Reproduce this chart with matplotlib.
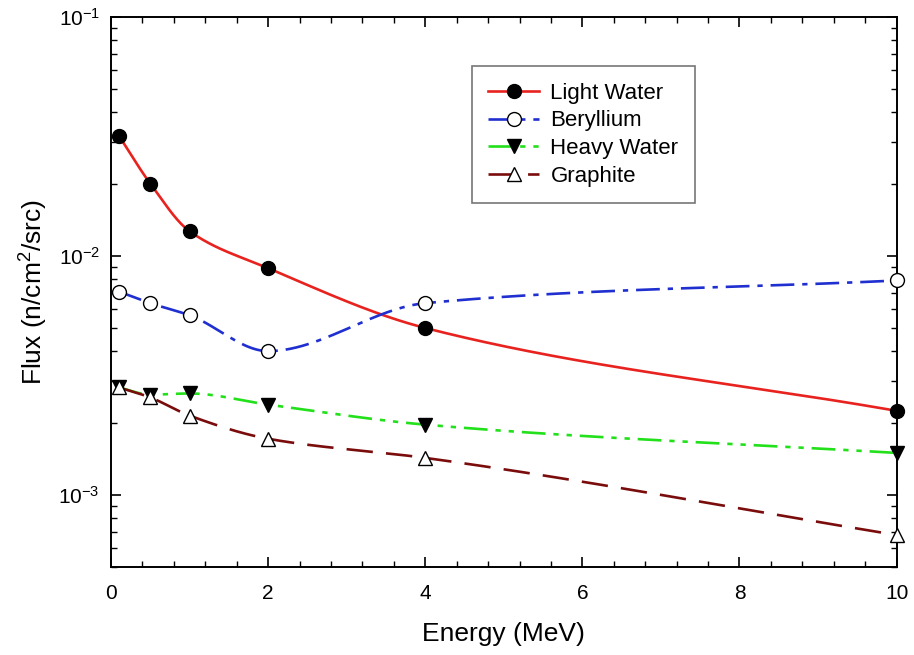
import numpy as np
import matplotlib
matplotlib.use("Agg")
import matplotlib.pyplot as plt
from matplotlib.ticker import LogLocator, MultipleLocator, LogFormatterMathtext, NullFormatter

plt.rcParams['font.family'] = ['Liberation Sans', 'DejaVu Sans']
plt.rcParams['mathtext.fontset'] = 'custom'
plt.rcParams['mathtext.rm'] = 'Liberation Sans'

# energies (MeV)
energy = [0.1, 0.5, 1.0, 2.0, 4.0, 10.0]

# flux (n/cm2/src)
light_water = [0.0319, 0.0201, 0.0127, 0.0089, 0.0050, 0.00225]
beryllium = [0.0071, 0.00635, 0.00565, 0.0040, 0.00635, 0.0079]
heavy_water = [0.00282, 0.00263, 0.00266, 0.00239, 0.00197, 0.0015]
graphite = [0.00282, 0.00256, 0.00215, 0.00172, 0.00143, 0.00068]


def smooth(x, y, n=400):
    # monotone cubic hermite (pchip) through the points, in log space
    x = np.asarray(x, float)
    ly = np.log10(np.asarray(y, float))
    h = np.diff(x)
    d = np.diff(ly) / h
    m = np.zeros_like(ly)
    for i in range(1, len(x) - 1):
        if d[i - 1] * d[i] > 0:
            w1 = 2 * h[i] + h[i - 1]
            w2 = h[i] + 2 * h[i - 1]
            m[i] = (w1 + w2) / (w1 / d[i - 1] + w2 / d[i])
    m[0] = d[0]
    m[-1] = d[-1]
    xs = np.linspace(x[0], x[-1], n)
    idx = np.clip(np.searchsorted(x, xs) - 1, 0, len(x) - 2)
    t = (xs - x[idx]) / h[idx]
    h00 = 2 * t**3 - 3 * t**2 + 1
    h10 = t**3 - 2 * t**2 + t
    h01 = -2 * t**3 + 3 * t**2
    h11 = t**3 - t**2
    ys = h00 * ly[idx] + h10 * h[idx] * m[idx] + h01 * ly[idx + 1] + h11 * h[idx] * m[idx + 1]
    return xs, 10**ys


series = [
    ("Light Water", light_water, "#e8231f", "-", "o", "black"),
    ("Beryllium", beryllium, "#1f2fd0", (0, (9, 3, 2, 3)), "o", "white"),
    ("Heavy Water", heavy_water, "#22e01a", (0, (9, 3, 2, 3, 2, 3)), "v", "black"),
    ("Graphite", graphite, "#7a0c0c", (0, (10, 5)), "^", "white"),
]

fig = plt.figure(figsize=(9.14, 6.55), dpi=100)
ax = fig.add_axes([0.1214, 0.1344, 0.8596, 0.8396])

for name, vals, col, ls, mk, fc in series:
    xs, ys = smooth(energy, vals)
    ax.plot(xs, ys, color=col, linestyle=ls, linewidth=1.9, zorder=2)
    ax.plot(energy, vals, linestyle="none", marker=mk, markersize=10,
            markerfacecolor=fc, markeredgecolor="black", markeredgewidth=1.0,
            zorder=3, clip_on=False)
    ax.plot([], [], color=col, linestyle=ls, linewidth=1.9, marker=mk,
            markersize=10, markerfacecolor=fc, markeredgecolor="black",
            markeredgewidth=1.0, label=name)

ax.set_yscale("log")
ax.set_xlim(0, 10)
ax.set_ylim(5e-4, 1e-1)
ax.xaxis.set_major_locator(MultipleLocator(2))
ax.xaxis.set_minor_locator(MultipleLocator(0.4))
ax.yaxis.set_major_locator(LogLocator(base=10, numticks=10))
ax.yaxis.set_minor_locator(LogLocator(base=10, subs=np.arange(2, 10), numticks=20))
ax.yaxis.set_major_formatter(LogFormatterMathtext())
ax.yaxis.set_minor_formatter(NullFormatter())
ax.tick_params(which="both", direction="in", top=True, right=True, labelsize=15)
ax.tick_params(which="major", length=7, width=1.2)
ax.tick_params(which="minor", length=4, width=1.0)
ax.tick_params(axis="x", pad=12)
ax.tick_params(axis="y", pad=8)
for s in ax.spines.values():
    s.set_linewidth(1.4)

ax.set_xlabel("Energy (MeV)", fontsize=19, labelpad=14)
ax.set_ylabel("Flux (n/cm$^2$/src)", fontsize=19, labelpad=7)

leg = ax.legend(loc="upper left", bbox_to_anchor=(0.459, 0.911), borderaxespad=0,
                fontsize=16, handlelength=2.3, frameon=True, fancybox=False,
                borderpad=0.75, labelspacing=0.3, handletextpad=0.5)
leg.get_frame().set_edgecolor("#555555")
leg.get_frame().set_linewidth(1.2)

fig.savefig("out.png", dpi=100)
